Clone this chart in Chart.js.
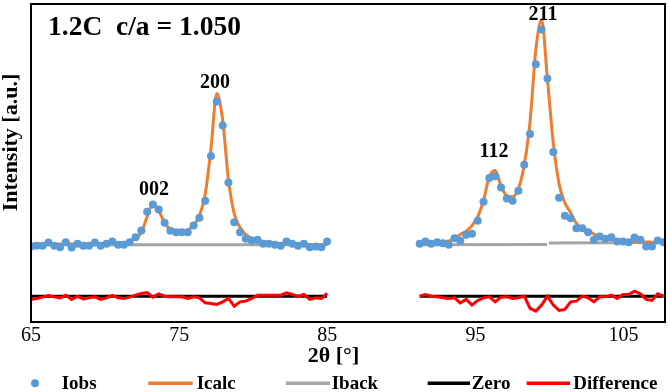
<!DOCTYPE html>
<html><head><meta charset="utf-8">
<script src="https://cdn.jsdelivr.net/npm/chart.js@4.4.1/dist/chart.umd.min.js"></script>
<style>html,body{margin:0;padding:0;background:#fff;}#wrap{width:670px;height:392px;}</style>
</head><body><div id="wrap"><canvas id="c" width="670" height="392"></canvas></div>
<script>
const chartTitle = '1.2C  c/a = 1.050';
const xTitle = '2θ [°]';
const yTitle = 'Intensity [a.u.]';
const xTicks = [65, 75, 85, 95, 105];
const seriesNames = ['Iobs', 'Icalc', 'Iback', 'Zero', 'Difference'];

// left 2θ window
const xLeft = [65.00,65.39,65.78,66.18,66.57,66.96,67.35,67.74,68.14,68.53,68.92,69.31,69.70,70.10,70.49,70.88,71.27,71.66,72.06,72.45,72.84,73.23,73.62,74.02,74.41,74.80,75.19,75.58,75.98,76.37,76.76,77.15,77.54,77.94,78.33,78.72,79.11,79.50,79.90,80.29,80.68,81.07,81.46,81.86,82.25,82.64,83.03,83.42,83.82,84.21,84.60,84.99];
const obsLeft = [50,50.7,50.7,54,50.7,49.3,54.3,49,52.7,50.7,50.7,54,50.7,52.7,55,51.7,51.7,54.3,59.3,66,85,92.3,87.3,74,65.7,64.3,64.3,64.3,71,79,96,141,196,171.7,114.3,74.3,64.3,57.7,56,56.7,52.7,52.7,51.7,50.7,55,52.7,50.7,52.7,49.3,50,49.3,55];
const calcLeft = [52.5,52.5,52.5,52.5,52.5,52.5,52.5,52.5,52.5,52.5,53,53,53,53.5,53.5,54,54,55.5,58.5,64,80,93,86,74,67,65,65,66.5,71.5,81,102.5,148.5,204,177,117,83,69,62,58.5,56.5,55,54,53.5,53,52.5,52.3,52.2,52.1,52,52,52,52];
const diffLeft = [-3.3,-2.3,-1,0.7,-0.7,-1.7,1,-3.3,-0.3,-2.7,-1.7,-0.7,-3.3,-1.7,0.7,-1.7,-2.3,-1,1,2.7,3.7,-1,2.3,0,-0.7,-0.7,-0.7,-2.3,-0.7,-1.7,-6.7,-7.3,-8.3,-5.7,-2.3,-10,-5.7,-5,-2.3,1,1,1,1,1,3.3,1.7,0,1.7,-3.3,-1.7,-2.3,2.7];

// right 2θ window
const xRight = [91.24,91.63,92.02,92.42,92.81,93.20,93.59,93.98,94.38,94.77,95.16,95.55,95.94,96.34,96.73,97.12,97.51,97.90,98.30,98.69,99.08,99.47,99.86,100.26,100.65,101.04,101.43,101.82,102.22,102.61,103.00,103.39,103.78,104.18,104.57,104.96,105.35,105.74,106.14,106.53,106.92,107.31,107.70];
const obsRight = [52.7,55,52.7,54.3,53.3,51.7,58.3,55.7,61.7,62.7,76,95,119,120.7,109.3,98.3,96,106,132.3,163.3,233.3,268.3,219,145,99,81,78.3,68.3,68.3,64.3,56.7,60,57.7,59.3,55,55,54.3,59,56.7,50,50,56,54.3];
const calcRight = [52.5,52.8,53,53.5,54.5,55.5,58,62,65.5,71,80,96.5,120,126.5,111,101,100,108,132.3,175.6,248,278,219,154,113,94,84,73.3,68.3,66,62.5,60,58.5,57.5,56.5,56,55.5,55,54.7,54.5,54.3,54,54];
const diffRight = [0,1.7,0,-0.7,-1.7,-2.3,-1.7,-6.7,-3.3,-9,-4.3,-1.7,-0.7,-5.7,-1,-0.7,-2.3,-1.7,0,-12.3,-15,-9,0,-9,-14.3,-13.3,-5.7,-5,0,-1.7,-5.7,-0.7,-0.7,1,-2.3,1.7,1.7,5,2.3,-3.3,-4.3,2.3,0];

// background
const backLeftX = [65.00, 84.99];
const backLeftY = [51.7, 51.7];
const backRightX = [91.24, 99.84, 99.90, 99.96, 107.70];
const backRightY = [51.7, 52.0, null, 53.4, 54.0];

const zeroLevel = 0;

// reflection labels
const peakNames = ['002', '200', '112', '211'];
const peakX = [73.30, 77.42, 96.26, 99.56];
const peakY = [102.3, 209, 140, 278.3];

const GAP_X = 88;
function pts(xs, ys) { return xs.map((x, i) => ({x: x, y: ys[i]})); }
function joined(xa, ya, xb, yb) { return pts(xa, ya).concat([{x: GAP_X, y: null}], pts(xb, yb)); }

const FONT = "'Liberation Serif', 'Times New Roman', serif";

const legendSlots = [
  {marker: 35, text: 61.7},
  {marker: [148.3, 192.7], text: 196.7},
  {marker: [286, 330], text: 331.7},
  {marker: [427.7, 470], text: 471.7},
  {marker: [526.7, 570], text: 573.3}
];

const overlay = {
  id: 'overlay',
  afterDatasetsDraw(chart) {
    const {ctx, chartArea: a, scales} = chart;
    ctx.save();
    ctx.strokeStyle = '#000';
    ctx.lineWidth = 2;
    ctx.strokeRect(a.left, a.top, a.right - a.left, a.bottom - a.top);
    ctx.fillStyle = '#000';
    ctx.font = 'bold 20px ' + FONT;
    ctx.textAlign = 'center';
    ctx.textBaseline = 'alphabetic';
    peakNames.forEach((n, i) => {
      ctx.fillText(n, scales.x.getPixelForValue(peakX[i]), scales.y.getPixelForValue(peakY[i]));
    });
    ctx.font = 'bold 27.5px ' + FONT;
    ctx.textAlign = 'left';
    ctx.fillText(chartTitle, 48, 35);
    ctx.restore();
  },
  afterDraw(chart) {
    const {ctx} = chart;
    ctx.save();
    ctx.fillStyle = '#000';
    // x title
    ctx.font = 'bold 22px ' + FONT;
    ctx.textAlign = 'center';
    ctx.textBaseline = 'alphabetic';
    ctx.fillText(xTitle, 333.5, 361.7);
    // y title
    ctx.save();
    ctx.translate(17.3, 142.5);
    ctx.rotate(-Math.PI / 2);
    ctx.fillText(yTitle, 0, 0);
    ctx.restore();
    // legend
    ctx.font = 'bold 19px ' + FONT;
    ctx.textAlign = 'left';
    const ly = 383.3;
    seriesNames.forEach((name, i) => {
      const ds = chart.data.datasets.find(d => d.label === name);
      const slot = legendSlots[i];
      if (ds.showLine === false) {
        ctx.beginPath();
        ctx.fillStyle = ds.backgroundColor;
        ctx.arc(slot.marker, ly, 4, 0, Math.PI * 2);
        ctx.fill();
      } else {
        ctx.beginPath();
        ctx.strokeStyle = ds.borderColor;
        ctx.lineWidth = 3.5;
        ctx.moveTo(slot.marker[0], ly);
        ctx.lineTo(slot.marker[1], ly);
        ctx.stroke();
      }
      ctx.fillStyle = '#000';
      ctx.fillText(name, slot.text, 389);
    });
    ctx.restore();
  }
};

new Chart(document.getElementById('c'), {
  type: 'line',
  data: {
    datasets: [
      {label: 'Iobs', data: joined(xLeft, obsLeft, xRight, obsRight), showLine: false,
       pointRadius: 4, pointBorderWidth: 0, backgroundColor: '#5B9BD5', borderColor: '#5B9BD5', order: 0},
      {label: 'Icalc', data: joined(xLeft, calcLeft, xRight, calcRight), borderColor: '#ED7D31',
       borderWidth: 3, pointRadius: 0, cubicInterpolationMode: 'monotone', order: 1},
      {label: 'Iback', data: joined(backLeftX, backLeftY, backRightX, backRightY), borderColor: '#A5A5A5',
       borderWidth: 3, pointRadius: 0, order: 2},
      {label: 'Difference', data: joined(xLeft, diffLeft, xRight, diffRight), borderColor: '#FF0000',
       borderWidth: 3, pointRadius: 0, tension: 0, order: 3},
      {label: 'Zero', data: joined([xLeft[0], xLeft[xLeft.length - 1]], [zeroLevel, zeroLevel],
                                   [xRight[0], xRight[xRight.length - 1]], [zeroLevel, zeroLevel]),
       borderColor: '#000000', borderWidth: 3, pointRadius: 0, order: 4}
    ]
  },
  options: {
    responsive: false,
    animation: false,
    devicePixelRatio: 1,
    spanGaps: false,
    layout: {padding: {left: 31, right: 5, top: 1, bottom: 42}},
    plugins: {legend: {display: false}, tooltip: {enabled: false}, title: {display: false}},
    scales: {
      x: {
        type: 'linear', min: 65, max: 107.8,
        afterBuildTicks: s => { s.ticks = xTicks.map(v => ({value: v})); },
        grid: {display: false, drawTicks: false},
        border: {display: false},
        ticks: {font: {family: FONT, size: 20}, color: '#000', padding: 2, maxRotation: 0, autoSkip: false,
                callback: v => String(v)}
      },
      y: {type: 'linear', min: -26, max: 294, display: false}
    }
  },
  plugins: [overlay]
});
</script>
</body></html>
